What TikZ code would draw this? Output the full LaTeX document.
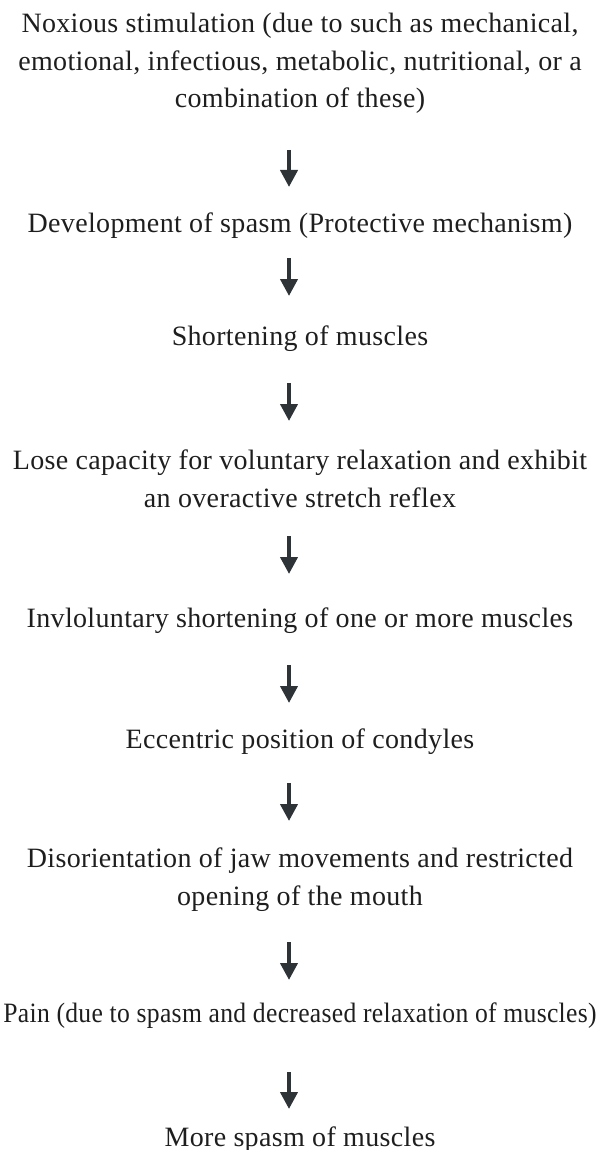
\documentclass[tikz,border=0pt]{standalone}
\usepackage{fontspec}
\setmainfont{Liberation Serif}[LetterSpace=1.2]
\usetikzlibrary{arrows.meta,calc}
\definecolor{ink}{HTML}{1E1E1E}
\definecolor{arrowc}{HTML}{2E3337}
\begin{document}
\begin{tikzpicture}[x=1pt,y=1pt,
  txt/.style={font=\fontsize{28}{37.5}\selectfont, text=ink, align=center, inner sep=0pt, anchor=base},
  arr/.style={draw=arrowc, fill=arrowc, line width=4pt, -{Triangle[length=17pt,width=17pt]}}]
\useasboundingbox (0,0) rectangle (600,-1150);
% base anchor of a multi-line node is its last line
\node[txt] (t1) at (300,-108) {Noxious stimulation (due to such as mechanical,\\ emotional, infectious, metabolic, nutritional, or a\\ combination of these)};
\node[txt] (t2) at (300,-233) {Development of spasm (Protective mechanism)};
\node[txt] (t3) at (300,-345) {Shortening of muscles};
\node[txt] (t4) at (300,-507) {Lose capacity for voluntary relaxation and exhibit\\ an overactive stretch reflex};
\node[txt] (t5) at (300,-627) {Invloluntary shortening of one or more muscles};
\node[txt] (t6) at (300,-748) {Eccentric position of condyles};
\node[txt] (t7) at (300,-905) {Disorientation of jaw movements and restricted\\ opening of the mouth};
\node[txt] (t8) at (300,-1022) {\scalebox{0.915}[1]{Pain (due to spasm and decreased relaxation of muscles)}};
\node[txt] (t9) at (300,-1146) {More spasm of muscles};
\draw[arr] ($(t1.base)+(-11,-42)$) -- ($(t2.base)+(-11,46)$);
\draw[arr] ($(t2.base)+(-11,-25)$) -- ($(t3.base)+(-11,49)$);
\draw[arr] ($(t3.base)+(-11,-38)$) -- ($(t4.base)+(-11,86)$);
\draw[arr] ($(t4.base)+(-11,-29)$) -- ($(t5.base)+(-11,53)$);
\draw[arr] ($(t5.base)+(-11,-38)$) -- ($(t6.base)+(-11,45)$);
\draw[arr] ($(t6.base)+(-11,-35)$) -- ($(t7.base)+(-11,84)$);
\draw[arr] ($(t7.base)+(-11,-37)$) -- ($(t8.base)+(-11,42)$);
\draw[arr] ($(t8.base)+(-11,-50)$) -- ($(t9.base)+(-11,37)$);
\end{tikzpicture}
\end{document}
